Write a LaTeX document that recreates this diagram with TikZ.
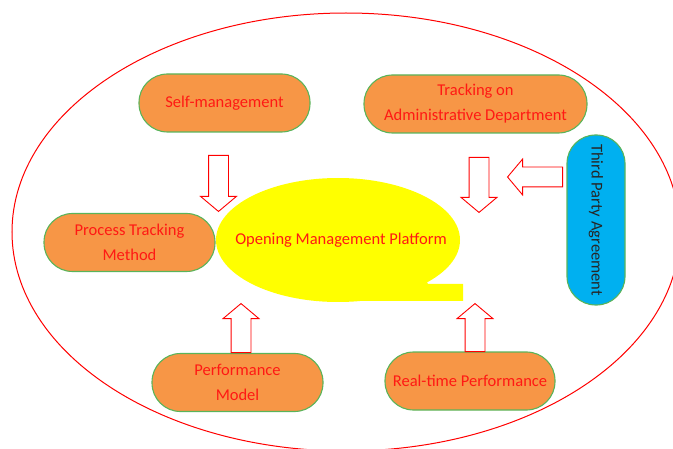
\documentclass[tikz,border=0pt]{standalone}
\usepackage{fontspec}
\setmainfont{Carlito}
\usetikzlibrary{shapes.geometric, shapes.arrows, positioning}
\definecolor{pillorange}{RGB}{247, 150, 70}
\definecolor{pillgreen}{RGB}{90, 180, 90}
\definecolor{agreeblue}{RGB}{0, 176, 240}
\definecolor{platyellow}{RGB}{255, 255, 0}
\definecolor{labelred}{RGB}{255, 25, 20}

\begin{document}
\begin{tikzpicture}[x=1pt, y=1pt,
    pill/.style={rectangle, rounded corners=28.5pt, draw=pillgreen, fill=pillorange, line width=1.1pt, minimum width=#1, minimum height=58pt, align=center, text=labelred, font=\fontsize{16.5}{25}\selectfont},
    blockarrow/.style={single arrow, draw=red, fill=white, line width=0.9pt, inner xsep=0pt, inner ysep=9.5pt, single arrow head extend=8pt, single arrow tip angle=100, anchor=tail}
]
\clip (0,0) rectangle (673,448);

% Outer boundary
\draw[red, line width=1pt] (346,216) ellipse [x radius=334, y radius=219];

% Central platform with its tab
\fill[platyellow] (338,208) ellipse [x radius=122, y radius=62];
\fill[platyellow] (350,147) -- (463,147) -- (463,164) -- (428,164) -- (420,178) -- (350,178) -- cycle;
\node[text=labelred, font=\fontsize{16.5}{25}\selectfont] (platform) at (341,208) {Opening Management Platform};

% Surrounding inputs
\node[pill=171pt] (selfmgmt) at (224.5,345) {Self-management};
\node[pill=223pt] (trackadmin) at (475.5,344) {Tracking on\\Administrative Department};
\node[pill=171pt] (processtrack) at (129.5,205.5) {Process Tracking\\Method};
\node[pill=171pt] (perfmodel) at (237.5,65.5) {Performance\\Model};
\node[pill=170pt] (realtime) at (470,67) {Real-time Performance};
\node[pill=170pt, fill=agreeblue, text=black!85, rotate=-90] (thirdparty) at (596,228) {Third Party Agreement};

% Block arrows into the platform
\node[blockarrow, rotate=-90, minimum height=56pt] (arrself) at (218.5,293) {};
\node[blockarrow, rotate=-90, minimum height=55pt] (arradmin) at (479,291) {};
\node[blockarrow, rotate=180, minimum height=55pt] (arrthird) at (563,271) {};
\node[blockarrow, rotate=90, minimum height=49pt] (arrmodel) at (241,95) {};
\node[blockarrow, rotate=90, minimum height=48pt] (arrreal) at (475,96) {};

\end{tikzpicture}
\end{document}
